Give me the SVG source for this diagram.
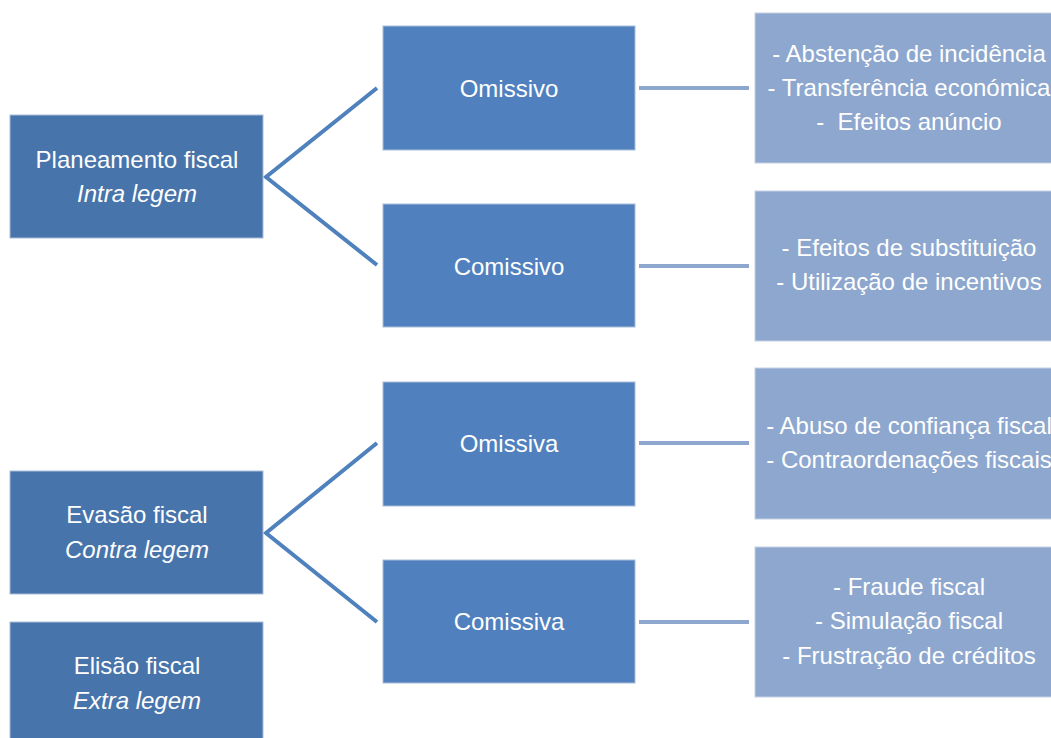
<svg xmlns="http://www.w3.org/2000/svg" width="1051" height="738" viewBox="0 0 1051 738">
<style>
.l{fill:#4774aa;stroke:#a9bdd8;stroke-width:1}
.m{fill:#5081be;stroke:#a9bdd8;stroke-width:1}
.r{fill:#8da7ce;stroke:#c3d1e6;stroke-width:1}
text{font-family:"Liberation Sans",Arial,sans-serif;font-size:24px;fill:#ffffff;text-anchor:middle}
.i{font-style:italic}
.c1{stroke:#4f81bd;stroke-width:4;fill:none}
.c2{stroke:#8da7ce;stroke-width:4;fill:none}
</style>
<rect width="1051" height="738" fill="#ffffff"/>
<g id="connectors">
<polyline class="c1" points="377,88 266,177 377,265"/>
<polyline class="c1" points="377,443 266,533 377,622"/>
<line class="c2" x1="639" y1="88" x2="749" y2="88"/>
<line class="c2" x1="639" y1="266" x2="749" y2="266"/>
<line class="c2" x1="639" y1="443" x2="749" y2="443"/>
<line class="c2" x1="639" y1="622" x2="749" y2="622"/>
</g>
<g id="planeamento">
<rect class="l" x="10" y="115" width="253" height="123"/>
<text x="137" y="168">Planeamento fiscal</text>
<text class="i" x="137" y="202">Intra legem</text>
</g>
<g id="evasao">
<rect class="l" x="10" y="471" width="253" height="123"/>
<text x="137" y="523">Evasão fiscal</text>
<text class="i" x="137" y="558">Contra legem</text>
</g>
<g id="elisao">
<rect class="l" x="10" y="622" width="253" height="123"/>
<text x="137" y="674">Elisão fiscal</text>
<text class="i" x="137" y="709">Extra legem</text>
</g>
<g id="omissivo">
<rect class="m" x="383" y="26" width="252" height="124"/>
<text x="509" y="97">Omissivo</text>
</g>
<g id="comissivo">
<rect class="m" x="383" y="204" width="252" height="123"/>
<text x="509" y="275">Comissivo</text>
</g>
<g id="omissiva">
<rect class="m" x="383" y="382" width="252" height="124"/>
<text x="509" y="452">Omissiva</text>
</g>
<g id="comissiva">
<rect class="m" x="383" y="560" width="252" height="123"/>
<text x="509" y="630">Comissiva</text>
</g>
<g id="omissivo-detail">
<rect class="r" x="755" y="13" width="310" height="150"/>
<text x="909" y="62">- Abstenção de incidência</text>
<text x="909" y="96">- Transferência económica</text>
<text x="909" y="130" xml:space="preserve">-  Efeitos anúncio</text>
</g>
<g id="comissivo-detail">
<rect class="r" x="755" y="191" width="310" height="150"/>
<text x="909" y="256">- Efeitos de substituição</text>
<text x="909" y="290">- Utilização de incentivos</text>
</g>
<g id="omissiva-detail">
<rect class="r" x="755" y="368" width="310" height="151"/>
<text x="909" y="434">- Abuso de confiança fiscal</text>
<text x="909" y="468">- Contraordenações fiscais</text>
</g>
<g id="comissiva-detail">
<rect class="r" x="755" y="547" width="310" height="150"/>
<text x="909" y="595">- Fraude fiscal</text>
<text x="909" y="629">- Simulação fiscal</text>
<text x="909" y="664">- Frustração de créditos</text>
</g>
</svg>
